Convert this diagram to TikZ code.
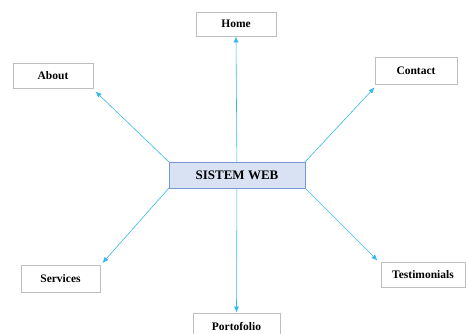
\documentclass[tikz,border=0pt]{standalone}
\usepackage{fontspec}
\setmainfont{Liberation Serif}
\usetikzlibrary{arrows.meta}
\definecolor{arrowc}{RGB}{50,185,238}
\definecolor{boxgray}{RGB}{190,190,190}
\definecolor{cfill}{RGB}{217,226,243}
\definecolor{cdraw}{RGB}{120,150,215}
\tikzset{
  pagebox/.style={draw=boxgray, line width=0.9pt, fill=white, inner sep=0pt, font=\fontsize{11.5}{13}\selectfont\bfseries},
  mainbox/.style={draw=cdraw, line width=1pt, fill=cfill, inner sep=0pt, font=\fontsize{13}{15}\selectfont\bfseries},
  link/.style={draw=arrowc, line width=0.6pt, -{Latex[length=6pt,width=5pt]}}
}
\begin{document}
\begin{tikzpicture}[x=1pt,y=-1pt]
\useasboundingbox (0,0) rectangle (466,333);
\node[pagebox, minimum width=80pt, minimum height=24pt] (home) at (236,24) {Home};
\node[pagebox, minimum width=80pt, minimum height=25pt] (about) at (53,75.5) {About};
\node[pagebox, minimum width=82pt, minimum height=27pt] (contact) at (416,70.5) {Contact};
\node[pagebox, minimum width=79pt, minimum height=27pt] (services) at (60.5,279) {Services};
\node[pagebox, minimum width=84pt, minimum height=25pt] (testi) at (423,274.5) {Testimonials};
\node[pagebox, minimum width=87pt, minimum height=26pt] (porto) at (236.5,326) {Portofolio};
\coordinate (c) at (237,175);
\coordinate (cnw) at (169,162);
\coordinate (cne) at (305,162);
\coordinate (csw) at (169,188);
\coordinate (cse) at (305,188);
\draw[link] (c) -- (home.south);
\draw[link] (c) -- (porto.north);
\draw[link] (cnw) -- ([shift={(2,3)}]about.south east);
\draw[link] (cne) -- ([shift={(0,3)}]contact.south west);
\draw[link] (csw) -- ([shift={(2,-2)}]services.north east);
\draw[link] (cse) -- ([shift={(-3,-1)}]testi.north west);
\node[mainbox, minimum width=136pt, minimum height=26pt] (web) at (237,175) {SISTEM WEB};
\end{tikzpicture}
\end{document}
